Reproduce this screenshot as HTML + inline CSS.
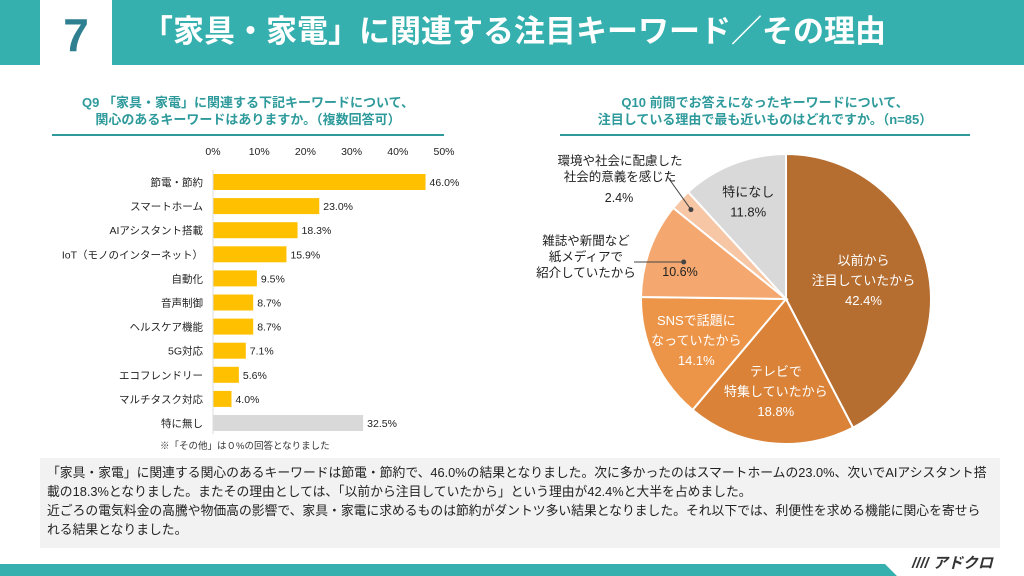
<!DOCTYPE html>
<html><head><meta charset="utf-8"><style>
body{margin:0;width:1024px;height:576px;overflow:hidden;background:#fff;font-family:"Liberation Sans","Noto Sans CJK JP",sans-serif;position:relative}
.abs{position:absolute}
</style></head><body>
<div class="abs" style="left:0;top:0;width:1024px;height:65px;background:#35b0ae"></div>
<div class="abs" style="left:40px;top:0;width:72px;height:65px;background:#fff;color:#2e7f8f;font-size:46px;font-weight:bold;text-align:center;line-height:70px">7</div>
<div class="abs" style="left:142px;top:12px;color:#fff;font-size:31px;font-weight:bold;white-space:nowrap;line-height:40px">「家具・家電」に関連する注目キーワード／その理由</div>

<div class="abs" style="left:52px;top:94px;width:392px;text-align:center;color:#2e9a9b;font-size:13px;font-weight:bold;line-height:17px">Q9 「家具・家電」に関連する下記キーワードについて、<br>関心のあるキーワードはありますか。（複数回答可）</div>
<div class="abs" style="left:52px;top:134px;width:392px;height:2px;background:#2e9a9b"></div>

<div class="abs" style="left:540px;top:94px;width:450px;text-align:center;color:#2e9a9b;font-size:13px;font-weight:bold;line-height:17px">Q10 前問でお答えになったキーワードについて、<br>注目している理由で最も近いものはどれですか。（n=85）</div>
<div class="abs" style="left:560px;top:134px;width:410px;height:2px;background:#2e9a9b"></div>

<svg class="abs" style="left:0;top:0" width="1024" height="576">
<g id="bars"></g>
<g id="pie"></g>
</svg>

<div class="abs" style="left:160px;top:438px;font-size:9.5px;color:#333">※「その他」は０%の回答となりました</div>

<div class="abs" style="left:40px;top:458px;width:946px;height:80px;padding:5px 7px;background:#f2f2f2;font-size:12.8px;line-height:19px;color:#222">「家具・家電」に関連する関心のあるキーワードは節電・節約で、46.0%の結果となりました。次に多かったのはスマートホームの23.0%、次いでAIアシスタント搭載の18.3%となりました。またその理由としては、「以前から注目していたから」という理由が42.4%と大半を占めました。<br>近ごろの電気料金の高騰や物価高の影響で、家具・家電に求めるものは節約がダントツ多い結果となりました。それ以下では、利便性を求める機能に関心を寄せられる結果となりました。</div>

<svg class="abs" style="left:0;top:556px" width="1024" height="20"><polygon points="0,8 885,8 897,20 0,20" fill="#35b0ae"/></svg>
<div class="abs" style="left:912px;top:552px;font-size:15px;font-weight:bold;font-style:italic;color:#333">//// アドクロ</div>

<script>
const categories=["節電・節約","スマートホーム","AIアシスタント搭載","IoT（モノのインターネット）","自動化","音声制御","ヘルスケア機能","5G対応","エコフレンドリー","マルチタスク対応","特に無し"];
const values=[46.0,23.0,18.3,15.9,9.5,8.7,8.7,7.1,5.6,4.0,32.5];
const ticks=[0,10,20,30,40,50];
const pieLabels=[["以前から","注目していたから"],["テレビで","特集していたから"],["SNSで話題に","なっていたから"],["雑誌や新聞など","紙メディアで","紹介していたから"],["環境や社会に配慮した","社会的意義を感じた"],["特になし"]];
const pieValues=[42.4,18.8,14.1,10.6,2.4,11.8];
const pieColors=["#b56d30","#d98238","#ec9549","#f4a870","#f7c6a4","#d9d9d9"];
const NS="http://www.w3.org/2000/svg";
function mk(p,t,a){const e=document.createElementNS(NS,t);for(const k in a)e.setAttribute(k,a[k]);p.appendChild(e);return e;}
const bx=v=>213+v*4.62, by=i=>174+i*24.1;
const bg=document.getElementById('bars');
ticks.forEach(t=>{const e=mk(bg,'text',{x:bx(t),y:155,'font-size':10.5,'text-anchor':'middle',fill:'#222'});e.textContent=t+'%';

});
categories.forEach((c,i)=>{
const r=mk(bg,'rect',{x:bx(0),y:by(i),width:bx(values[i])-bx(0),height:16,fill:i==categories.length-1?'#d9d9d9':'#ffc000'});


const l=mk(bg,'text',{x:203,y:by(i)+12,'font-size':10.5,'text-anchor':'end',fill:'#222'});l.textContent=c;


const v=mk(bg,'text',{x:bx(values[i])+4,y:by(i)+12,'font-size':10.5,fill:'#222'});v.textContent=values[i].toFixed(1)+'%';


});
mk(bg,'line',{x1:bx(0),y1:170,x2:bx(0),y2:434,stroke:'#ddd'});
const pg=document.getElementById('pie');
const cx=786,cy=299,R=145;
const tot=pieValues.reduce((a,b)=>a+b,0);
let a0=0;
const pt=(a,r)=>[cx+r*Math.sin(a),cy-r*Math.cos(a)];
const labelPos=[[0,0.55,'#fff'],[0,0.64,'#fff'],[0,0.68,'#fff'],[null],[null],[0,0.72,'#222']];
pieValues.forEach((v,i)=>{
const a1=a0+v/tot*2*Math.PI;
const p0=pt(a0,R),p1=pt(a1,R);
const s=mk(pg,'path',{d:`M${cx},${cy}L${p0[0]},${p0[1]}A${R},${R} 0 ${a1-a0>Math.PI?1:0} 1 ${p1[0]},${p1[1]}Z`,fill:pieColors[i],stroke:'#fff','stroke-width':2});


const am=(a0+a1)/2;
if(i<3||i==5){
const c=pt(am,R*labelPos[i][1]);const lines=pieLabels[i].concat([v.toFixed(1)+'%']);
const n=lines.length;
lines.forEach((ln,k)=>{const t=mk(pg,'text',{x:c[0],y:c[1]+(k-(n-1)/2)*20+5,'font-size':13,'text-anchor':'middle',fill:labelPos[i][2]});t.textContent=ln;

});
}else{
const c=pt(am,R*(i==3?0.75:0.9));
mk(pg,'circle',{cx:c[0],cy:c[1],r:2.5,fill:'#444'});
if(i==3){mk(pg,'line',{x1:634,y1:c[1],x2:c[0],y2:c[1],stroke:'#444'});
pieLabels[i].forEach((ln,k)=>{const t=mk(pg,'text',{x:586,y:245+k*16,'font-size':12.5,'text-anchor':'middle',fill:'#222'});t.textContent=ln;

});
const t=mk(pg,'text',{x:680,y:276,'font-size':12.5,'text-anchor':'middle',fill:'#222'});t.textContent=v.toFixed(1)+'%';


}else{mk(pg,'line',{x1:667,y1:176,x2:c[0],y2:c[1],stroke:'#444'});
pieLabels[i].forEach((ln,k)=>{const t=mk(pg,'text',{x:620,y:165+k*16,'font-size':12.5,'text-anchor':'middle',fill:'#222'});t.textContent=ln;

});
const t=mk(pg,'text',{x:619,y:202,'font-size':12.5,'text-anchor':'middle',fill:'#222'});t.textContent=v.toFixed(1)+'%';

}
}
a0=a1;
});
</script>
</body></html>
